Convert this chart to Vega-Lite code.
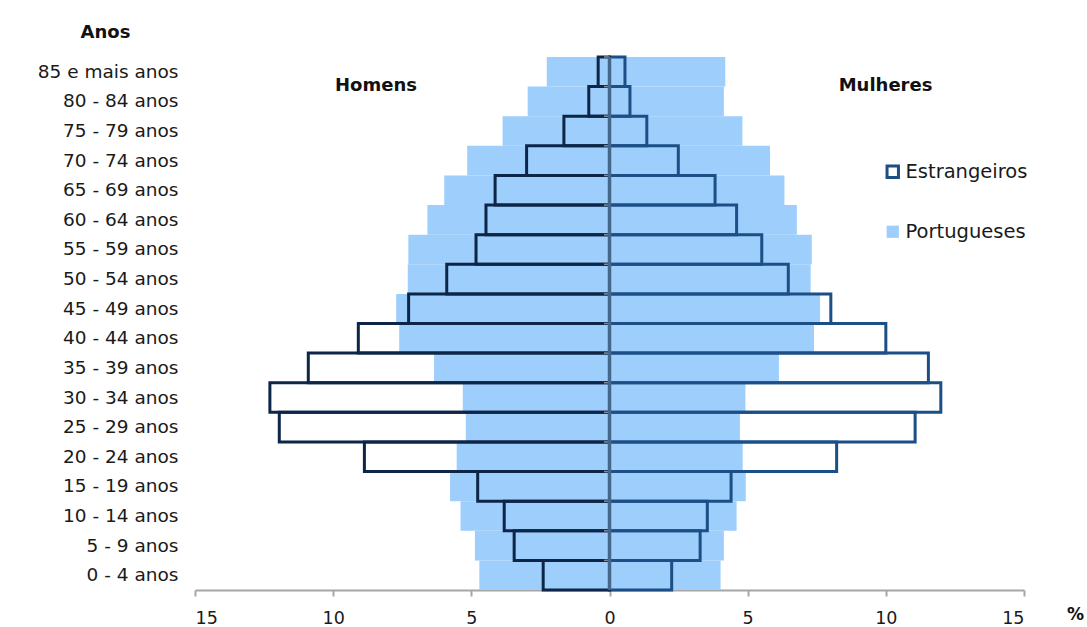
{
  "$schema": "https://vega.github.io/schema/vega-lite/v6.json",
  "autosize": {"type": "none"},
  "padding": {"left": 195, "top": 57, "right": 63, "bottom": 37},
  "width": 829,
  "height": 533,
  "background": "white",
  "config": {"view": {"stroke": null}, "font": "DejaVu Sans"},
  "datasets": {
    "pyramid": [
      {"age": "85 e mais anos", "sex": "Homens", "group": "Portugueses", "pct": 2.27},
      {"age": "85 e mais anos", "sex": "Homens", "group": "Estrangeiros", "pct": 0.41},
      {"age": "85 e mais anos", "sex": "Mulheres", "group": "Portugueses", "pct": 4.19},
      {"age": "85 e mais anos", "sex": "Mulheres", "group": "Estrangeiros", "pct": 0.56},
      {"age": "80 - 84 anos", "sex": "Homens", "group": "Portugueses", "pct": 2.96},
      {"age": "80 - 84 anos", "sex": "Homens", "group": "Estrangeiros", "pct": 0.75},
      {"age": "80 - 84 anos", "sex": "Mulheres", "group": "Portugueses", "pct": 4.14},
      {"age": "80 - 84 anos", "sex": "Mulheres", "group": "Estrangeiros", "pct": 0.74},
      {"age": "75 - 79 anos", "sex": "Homens", "group": "Portugueses", "pct": 3.87},
      {"age": "75 - 79 anos", "sex": "Homens", "group": "Estrangeiros", "pct": 1.65},
      {"age": "75 - 79 anos", "sex": "Mulheres", "group": "Portugueses", "pct": 4.81},
      {"age": "75 - 79 anos", "sex": "Mulheres", "group": "Estrangeiros", "pct": 1.35},
      {"age": "70 - 74 anos", "sex": "Homens", "group": "Portugueses", "pct": 5.15},
      {"age": "70 - 74 anos", "sex": "Homens", "group": "Estrangeiros", "pct": 3.0},
      {"age": "70 - 74 anos", "sex": "Mulheres", "group": "Portugueses", "pct": 5.81},
      {"age": "70 - 74 anos", "sex": "Mulheres", "group": "Estrangeiros", "pct": 2.49},
      {"age": "65 - 69 anos", "sex": "Homens", "group": "Portugueses", "pct": 5.98},
      {"age": "65 - 69 anos", "sex": "Homens", "group": "Estrangeiros", "pct": 4.14},
      {"age": "65 - 69 anos", "sex": "Mulheres", "group": "Portugueses", "pct": 6.33},
      {"age": "65 - 69 anos", "sex": "Mulheres", "group": "Estrangeiros", "pct": 3.82},
      {"age": "60 - 64 anos", "sex": "Homens", "group": "Portugueses", "pct": 6.59},
      {"age": "60 - 64 anos", "sex": "Homens", "group": "Estrangeiros", "pct": 4.47},
      {"age": "60 - 64 anos", "sex": "Mulheres", "group": "Portugueses", "pct": 6.78},
      {"age": "60 - 64 anos", "sex": "Mulheres", "group": "Estrangeiros", "pct": 4.6},
      {"age": "55 - 59 anos", "sex": "Homens", "group": "Portugueses", "pct": 7.28},
      {"age": "55 - 59 anos", "sex": "Homens", "group": "Estrangeiros", "pct": 4.83},
      {"age": "55 - 59 anos", "sex": "Mulheres", "group": "Portugueses", "pct": 7.32},
      {"age": "55 - 59 anos", "sex": "Mulheres", "group": "Estrangeiros", "pct": 5.51},
      {"age": "50 - 54 anos", "sex": "Homens", "group": "Portugueses", "pct": 7.3},
      {"age": "50 - 54 anos", "sex": "Homens", "group": "Estrangeiros", "pct": 5.89},
      {"age": "50 - 54 anos", "sex": "Mulheres", "group": "Portugueses", "pct": 7.28},
      {"age": "50 - 54 anos", "sex": "Mulheres", "group": "Estrangeiros", "pct": 6.47},
      {"age": "45 - 49 anos", "sex": "Homens", "group": "Portugueses", "pct": 7.72},
      {"age": "45 - 49 anos", "sex": "Homens", "group": "Estrangeiros", "pct": 7.27},
      {"age": "45 - 49 anos", "sex": "Mulheres", "group": "Portugueses", "pct": 7.62},
      {"age": "45 - 49 anos", "sex": "Mulheres", "group": "Estrangeiros", "pct": 8.01},
      {"age": "40 - 44 anos", "sex": "Homens", "group": "Portugueses", "pct": 7.61},
      {"age": "40 - 44 anos", "sex": "Homens", "group": "Estrangeiros", "pct": 9.09},
      {"age": "40 - 44 anos", "sex": "Mulheres", "group": "Portugueses", "pct": 7.4},
      {"age": "40 - 44 anos", "sex": "Mulheres", "group": "Estrangeiros", "pct": 10.0},
      {"age": "35 - 39 anos", "sex": "Homens", "group": "Portugueses", "pct": 6.35},
      {"age": "35 - 39 anos", "sex": "Homens", "group": "Estrangeiros", "pct": 10.9},
      {"age": "35 - 39 anos", "sex": "Mulheres", "group": "Portugueses", "pct": 6.13},
      {"age": "35 - 39 anos", "sex": "Mulheres", "group": "Estrangeiros", "pct": 11.54},
      {"age": "30 - 34 anos", "sex": "Homens", "group": "Portugueses", "pct": 5.31},
      {"age": "30 - 34 anos", "sex": "Homens", "group": "Estrangeiros", "pct": 12.29},
      {"age": "30 - 34 anos", "sex": "Mulheres", "group": "Portugueses", "pct": 4.92},
      {"age": "30 - 34 anos", "sex": "Mulheres", "group": "Estrangeiros", "pct": 11.99},
      {"age": "25 - 29 anos", "sex": "Homens", "group": "Portugueses", "pct": 5.2},
      {"age": "25 - 29 anos", "sex": "Homens", "group": "Estrangeiros", "pct": 11.95},
      {"age": "25 - 29 anos", "sex": "Mulheres", "group": "Portugueses", "pct": 4.72},
      {"age": "25 - 29 anos", "sex": "Mulheres", "group": "Estrangeiros", "pct": 11.06},
      {"age": "20 - 24 anos", "sex": "Homens", "group": "Portugueses", "pct": 5.53},
      {"age": "20 - 24 anos", "sex": "Homens", "group": "Estrangeiros", "pct": 8.87},
      {"age": "20 - 24 anos", "sex": "Mulheres", "group": "Portugueses", "pct": 4.82},
      {"age": "20 - 24 anos", "sex": "Mulheres", "group": "Estrangeiros", "pct": 8.22},
      {"age": "15 - 19 anos", "sex": "Homens", "group": "Portugueses", "pct": 5.77},
      {"age": "15 - 19 anos", "sex": "Homens", "group": "Estrangeiros", "pct": 4.77},
      {"age": "15 - 19 anos", "sex": "Mulheres", "group": "Portugueses", "pct": 4.93},
      {"age": "15 - 19 anos", "sex": "Mulheres", "group": "Estrangeiros", "pct": 4.4},
      {"age": "10 - 14 anos", "sex": "Homens", "group": "Portugueses", "pct": 5.39},
      {"age": "10 - 14 anos", "sex": "Homens", "group": "Estrangeiros", "pct": 3.81},
      {"age": "10 - 14 anos", "sex": "Mulheres", "group": "Portugueses", "pct": 4.6},
      {"age": "10 - 14 anos", "sex": "Mulheres", "group": "Estrangeiros", "pct": 3.54},
      {"age": "5 - 9 anos", "sex": "Homens", "group": "Portugueses", "pct": 4.87},
      {"age": "5 - 9 anos", "sex": "Homens", "group": "Estrangeiros", "pct": 3.45},
      {"age": "5 - 9 anos", "sex": "Mulheres", "group": "Portugueses", "pct": 4.14},
      {"age": "5 - 9 anos", "sex": "Mulheres", "group": "Estrangeiros", "pct": 3.28},
      {"age": "0 - 4 anos", "sex": "Homens", "group": "Portugueses", "pct": 4.71},
      {"age": "0 - 4 anos", "sex": "Homens", "group": "Estrangeiros", "pct": 2.4},
      {"age": "0 - 4 anos", "sex": "Mulheres", "group": "Portugueses", "pct": 4.02},
      {"age": "0 - 4 anos", "sex": "Mulheres", "group": "Estrangeiros", "pct": 2.25}
    ],
    "sides": [
      {"label": "Homens", "pos": -8.45},
      {"label": "Mulheres", "pos": 9.99}
    ]
  },
  "encoding": {
    "y": {
      "field": "age", "type": "nominal",
      "scale": {"domain": ["85 e mais anos", "80 - 84 anos", "75 - 79 anos", "70 - 74 anos", "65 - 69 anos", "60 - 64 anos", "55 - 59 anos", "50 - 54 anos", "45 - 49 anos", "40 - 44 anos", "35 - 39 anos", "30 - 34 anos", "25 - 29 anos", "20 - 24 anos", "15 - 19 anos", "10 - 14 anos", "5 - 9 anos", "0 - 4 anos"], "paddingInner": 0, "paddingOuter": 0},
      "axis": {
        "title": "Anos", "titleAngle": 0, "titleX": -90, "titleY": -25, "titleAlign": "center", "titleBaseline": "middle",
        "titleFontSize": 18, "titleFontWeight": "bold", "titleColor": "#111",
        "domain": false, "ticks": false, "labelPadding": 17, "labelFontSize": 18.5, "labelColor": "#1a1a1a"
      }
    }
  },
  "layer": [
    {
      "data": {"name": "pyramid"},
      "transform": [
        {"filter": "datum.group === 'Portugueses'"},
        {"calculate": "datum.sex === 'Homens' ? -datum.pct : datum.pct", "as": "val"}
      ],
      "mark": {"type": "bar", "fillOpacity": 1, "strokeWidth": 0},
      "encoding": {
        "x": {
          "field": "val", "type": "quantitative",
          "scale": {"domain": [-15, 15], "nice": false, "zero": false},
          "axis": {
            "values": [-15, -10, -5, 0, 5, 10, 15], "labelExpr": "abs(datum.value)", "grid": false,
            "domainColor": "#a6a6a6", "domainWidth": 2, "tickColor": "#a6a6a6", "tickWidth": 2, "tickSize": 6,
            "labelFontSize": 17.5, "labelColor": "#1a1a1a", "labelPadding": 13,
            "title": "%", "titleX": 880, "titleY": 24, "titleAlign": "center", "titleBaseline": "middle",
            "titleFontSize": 17, "titleFontWeight": "bold", "titleColor": "#111"
          }
        },
        "fill": {
          "field": "group", "type": "nominal",
          "scale": {"domain": ["Portugueses"], "range": ["#9ecefc"]},
          "legend": {
            "title": null, "orient": "none", "legendX": 688, "legendY": 165,
            "symbolType": "square", "symbolSize": 150, "symbolStrokeWidth": 0, "labelFontSize": 19.5, "labelColor": "#1a1a1a",
            "labelOffset": 3, "padding": 0
          }
        }
      }
    },
    {
      "data": {"name": "pyramid"},
      "transform": [
        {"filter": "datum.group === 'Estrangeiros' && datum.sex === 'Mulheres'"},
        {"calculate": "datum.pct", "as": "val"}
      ],
      "mark": {"type": "bar", "filled": false, "strokeWidth": 3, "strokeJoin": "miter"},
      "encoding": {
        "x": {"field": "val", "type": "quantitative"},
        "stroke": {
          "field": "group", "type": "nominal",
          "scale": {"domain": ["Estrangeiros"], "range": ["#1b4f85"]},
          "legend": {
            "title": null, "orient": "none", "legendX": 688, "legendY": 105,
            "symbolType": "square", "symbolSize": 130, "symbolStrokeWidth": 3, "labelFontSize": 19.5, "labelColor": "#1a1a1a",
            "labelOffset": 3, "padding": 0
          }
        }
      }
    },
    {
      "data": {"name": "pyramid"},
      "transform": [
        {"filter": "datum.group === 'Estrangeiros' && datum.sex === 'Homens'"},
        {"calculate": "-datum.pct", "as": "val"}
      ],
      "mark": {"type": "bar", "filled": false, "strokeWidth": 3, "strokeJoin": "miter", "stroke": "#0d2647"},
      "encoding": {
        "x": {"field": "val", "type": "quantitative"}
      }
    },
    {
      "data": {"name": "pyramid"},
      "transform": [{"filter": "datum.group === 'Portugueses' && datum.sex === 'Homens'"}],
      "mark": {"type": "rule", "color": "#8c8c8c", "strokeWidth": 1.5},
      "encoding": {
        "x": {"datum": -0.2},
        "x2": {"datum": 0},
        "y": {"field": "age", "type": "nominal", "bandPosition": 0}
      }
    },
    {
      "data": {"values": [{"v": 0}]},
      "mark": {"type": "rule", "color": "#44678a", "strokeWidth": 3.5},
      "encoding": {"x": {"field": "v", "type": "quantitative"}, "y": null}
    },
    {
      "data": {"name": "sides"},
      "mark": {"type": "text", "fontSize": 18, "fontWeight": "bold", "fill": "#111", "dy": 14},
      "encoding": {
        "x": {"field": "pos", "type": "quantitative"},
        "y": {"datum": "85 e mais anos"},
        "text": {"field": "label"}
      }
    }
  ]
}
